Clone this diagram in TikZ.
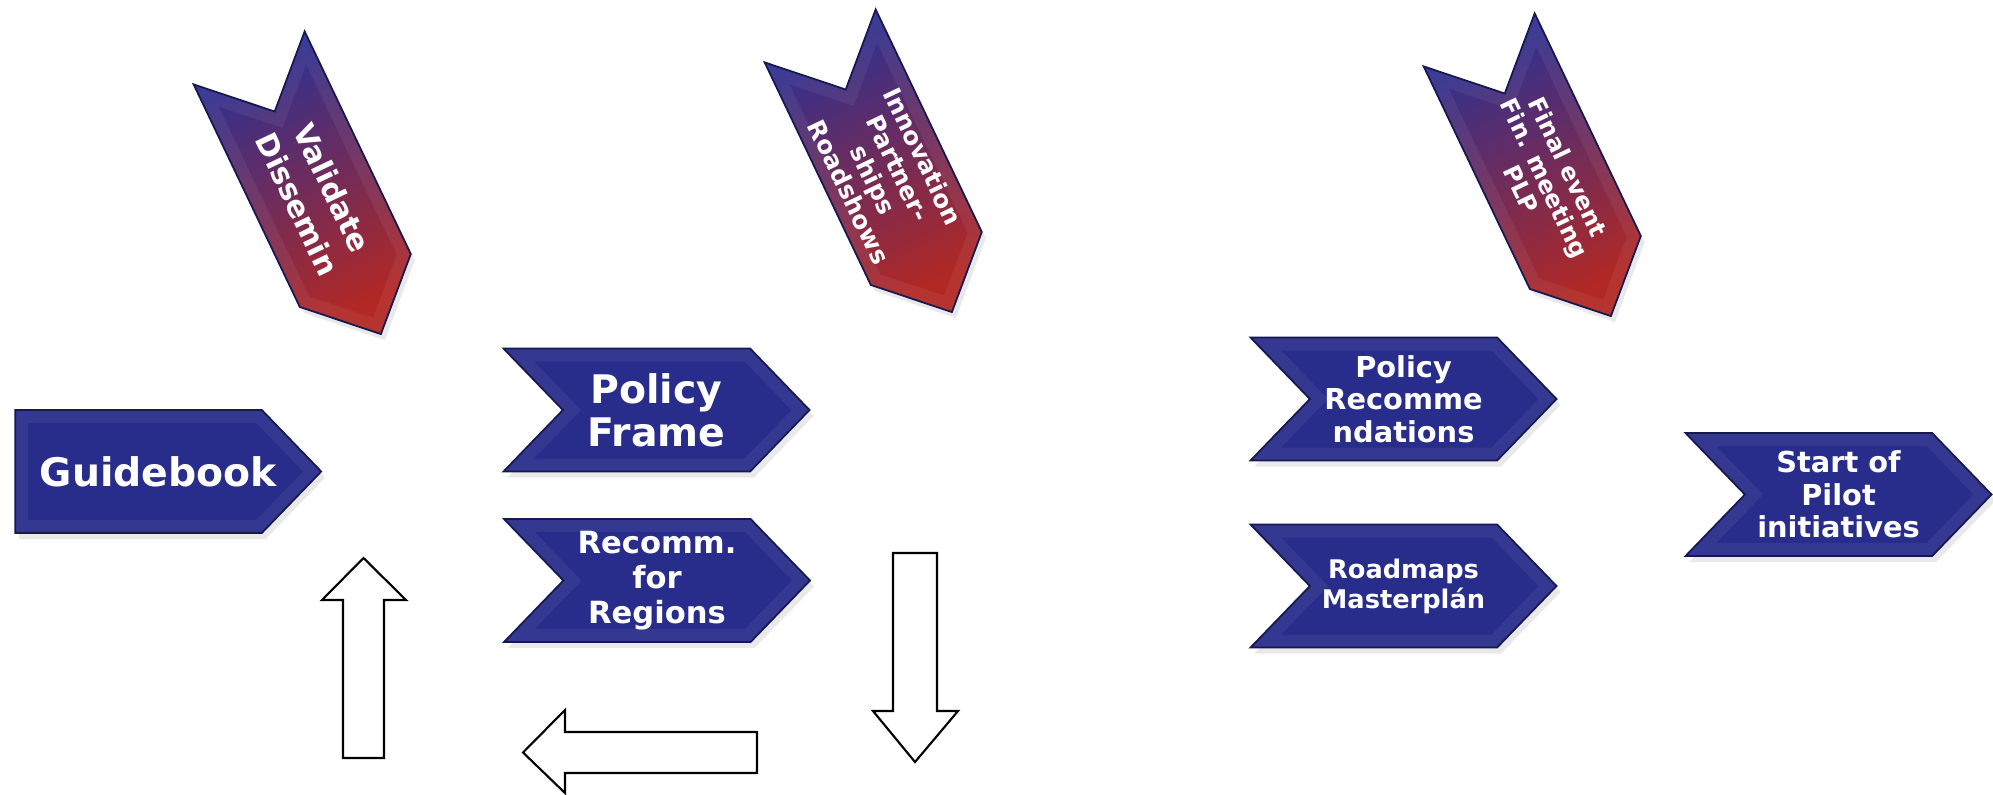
\documentclass[tikz,border=0pt]{standalone}
\usepackage{fontspec}
\setmainfont{DejaVu Sans}
\usetikzlibrary{shapes.symbols,shadows}

\definecolor{chevblue}{RGB}{40,44,138}
\definecolor{chevedge}{RGB}{22,24,80}
\definecolor{chevtop}{RGB}{42,48,148}
\definecolor{chevmid}{RGB}{80,34,120}
\definecolor{chevbot}{RGB}{178,40,36}

\begin{document}
\begin{tikzpicture}[
        chevron/.style={signal, signal from=west, signal to=east, signal pointer angle=92,
            minimum width=3.06cm, minimum height=1.23cm, inner sep=0pt, fill=chevblue,
            text=white, align=center,
            drop shadow={opacity=0.18, shadow xshift=0.4mm, shadow yshift=-0.6mm},
            postaction={draw=white, draw opacity=0.06, line width=2.6mm},
            postaction={draw=chevedge, line width=0.5pt}},
        flag/.style={chevron, rotate=-64.5, top color=chevtop, middle color=chevmid,
            bottom color=chevbot, shading angle=26},
        hollow/.style={draw=black, fill=white, line width=0.6pt, line join=miter},
        big/.style={font=\fontsize{11.2}{12.2}\selectfont\bfseries},
        mid/.style={font=\fontsize{8.2}{9.3}\selectfont\bfseries}
    ]
        \useasboundingbox (0,0) rectangle (19.93,-7.94);

        % Flags (top row)
        \node[flag, font=\fontsize{8.5}{11}\selectfont\bfseries] (validate) at (3.15,-1.96) {Validate\\Dissemin};
        \node[flag, font=\fontsize{7}{7.8}\selectfont\bfseries] (innov) at (8.86,-1.74) {Innovation\\Partner-\\ships\\Roadshows};
        \node[flag, font=\fontsize{6.8}{7.4}\selectfont\bfseries] (final) at (15.45,-1.78) {Final event\\Fin. meeting\\PLP};

        % Steps
        \node[chevron, signal from=nowhere, big] (guide) at (1.385,-4.715) {\makebox[0pt]{\hspace{4mm}Guidebook}};
        \node[chevron, big] (frame) at (6.565,-4.10) {Policy\\Frame};
        \node[chevron, font=\fontsize{8.7}{10}\selectfont\bfseries] (regions) at (6.57,-5.805) {Recomm.\\for\\Regions};
        \node[chevron, mid] (polrec) at (14.035,-3.99) {Policy\\Recomme\\ndations};
        \node[chevron, font=\fontsize{7.3}{8.5}\selectfont\bfseries] (roadmap) at (14.035,-5.86) {Roadmaps\\Masterplán};
        \node[chevron, mid] (pilot) at (18.385,-4.945) {Start of\\Pilot\\initiatives};

        % Cycle arrows
        \draw[hollow] (3.43,-7.58) -- (3.43,-6.00) -- (3.22,-6.00) -- (3.635,-5.58)
            -- (4.06,-6.00) -- (3.84,-6.00) -- (3.84,-7.58) -- cycle;
        \draw[hollow] (7.57,-7.32) -- (5.65,-7.32) -- (5.65,-7.10) -- (5.23,-7.525)
            -- (5.65,-7.93) -- (5.65,-7.73) -- (7.57,-7.73) -- cycle;
        \draw[hollow] (8.93,-5.53) -- (8.93,-7.11) -- (8.73,-7.11) -- (9.15,-7.62)
            -- (9.58,-7.11) -- (9.37,-7.11) -- (9.37,-5.53) -- cycle;

    \end{tikzpicture}
\end{document}
